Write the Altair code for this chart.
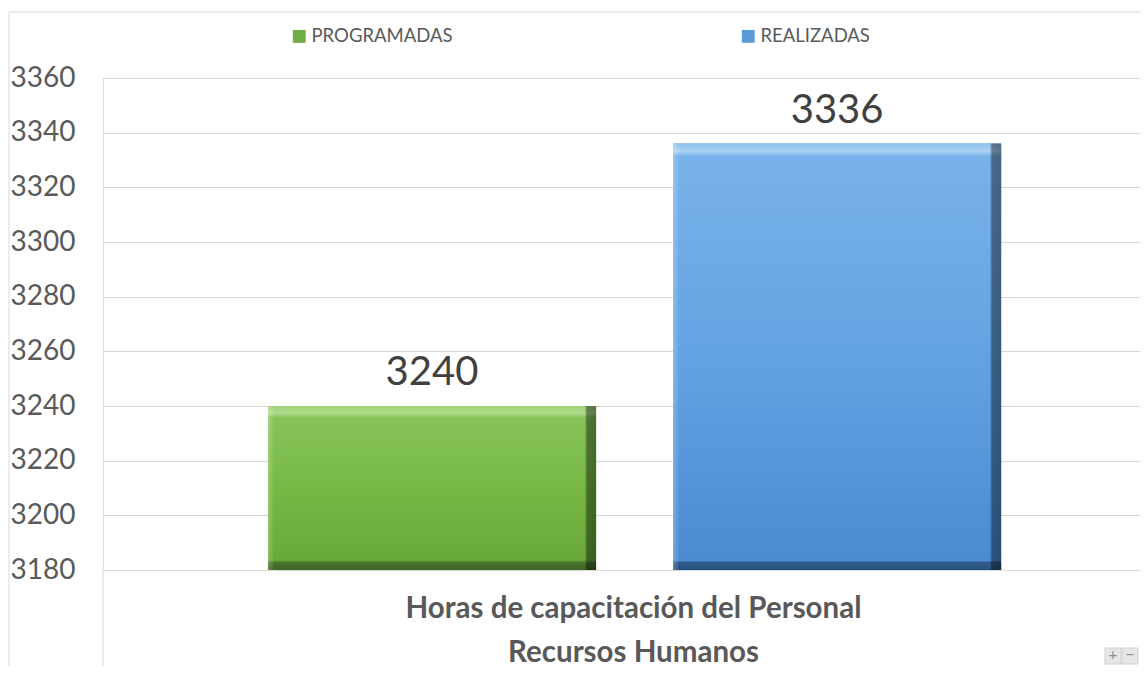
import altair as alt
import pandas as pd

# ---- data ----
SERIES = ["PROGRAMADAS", "REALIZADAS"]
VALUES = [3240, 3336]
CATEGORY = "Horas de capacitación del Personal"
GROUP = "Recursos Humanos"
Y_TICKS = [3180, 3200, 3220, 3240, 3260, 3280, 3300, 3320, 3340, 3360]
COLORS = ["#70ad47", "#5b9bd5"]
ZOOM_BUTTONS = ["+", "−"]

df = pd.DataFrame({"serie": SERIES, "valor": VALUES})
one = pd.DataFrame({"k": [0]})

W, H = 1037, 492
FONT = "Lato"
TXT = "#595959"
GRID = "#d9d9d9"

GRAD_G = {
    "gradient": "linear", "x1": 0, "y1": 0, "x2": 0, "y2": 1,
    "stops": [
        {"offset": 0.0, "color": "#9fd078"},
        {"offset": 0.045, "color": "#b0dc8c"},
        {"offset": 0.07, "color": "#86c35a"},
        {"offset": 0.5, "color": "#77b845"},
        {"offset": 0.94, "color": "#68a93a"},
        {"offset": 0.955, "color": "#4a752d"},
        {"offset": 1.0, "color": "#3d6524"},
    ],
}
GRAD_B = {
    "gradient": "linear", "x1": 0, "y1": 0, "x2": 0, "y2": 1,
    "stops": [
        {"offset": 0.0, "color": "#8fc0ef"},
        {"offset": 0.018, "color": "#acd3f5"},
        {"offset": 0.03, "color": "#78b2ea"},
        {"offset": 0.5, "color": "#63a2e2"},
        {"offset": 0.978, "color": "#4a8bd2"},
        {"offset": 0.982, "color": "#2f5b8a"},
        {"offset": 1.0, "color": "#28507c"},
    ],
}
GRAD_EDGE = {
    "gradient": "linear", "x1": 0, "y1": 0, "x2": 1, "y2": 0,
    "stops": [
        {"offset": 0.0, "color": "rgba(255,255,255,0.25)"},
        {"offset": 0.02, "color": "rgba(255,255,255,0.0)"},
        {"offset": 0.966, "color": "rgba(0,0,0,0.0)"},
        {"offset": 0.972, "color": "rgba(0,0,0,0.40)"},
        {"offset": 1.0, "color": "rgba(0,0,0,0.45)"},
    ],
}

x_enc = alt.X(
    "serie:N",
    scale=alt.Scale(domain=SERIES, paddingInner=0.19, paddingOuter=0.375, align=0.543),
    axis=alt.Axis(
        labels=False, ticks=False, domain=True, domainColor=GRID, grid=False,
        title=[CATEGORY, GROUP], titleFont=FONT, titleFontSize=29.5,
        titleFontWeight="bold", titleColor=TXT, titleX=530, titleY=47,
        titleAlign="center", titleBaseline="alphabetic", titleLineHeight=44,
    ),
)
y_enc = alt.Y(
    "valor:Q",
    scale=alt.Scale(domain=[Y_TICKS[0], Y_TICKS[-1]], zero=False, nice=False),
    axis=alt.Axis(
        values=Y_TICKS, format="d", grid=True, gridColor=GRID, domain=False, ticks=False,
        labelPadding=28, labelFont=FONT, labelFontSize=28, labelColor=TXT, title=None,
    ),
)

base = alt.Chart(df).mark_bar().encode(
    x=x_enc,
    y=y_enc,
    y2=alt.datum(Y_TICKS[0]),
    color=alt.Color(
        "serie:N",
        scale=alt.Scale(domain=SERIES, range=COLORS),
        legend=alt.Legend(
            title=None, orient="none", legendX=187, legendY=-51,
            direction="horizontal", symbolType="square", symbolSize=165,
            symbolStrokeWidth=0, labelFont=FONT, labelFontSize=18.5,
            labelColor=TXT, columnPadding=286, labelOffset=3, padding=0,
        ),
    ),
)

shade = alt.Chart(df).mark_bar().encode(
    x=x_enc,
    y=y_enc,
    y2=alt.datum(Y_TICKS[0]),
    fill=alt.condition(alt.datum.serie == SERIES[0], alt.value(GRAD_G), alt.value(GRAD_B)),
)

edge = alt.Chart(df).mark_bar(fill=GRAD_EDGE).encode(
    x=x_enc,
    y=y_enc,
    y2=alt.datum(Y_TICKS[0]),
)

labels = alt.Chart(df).mark_text(
    baseline="alphabetic", dy=-21, fontSize=40, font=FONT, color="#404040"
).encode(x=x_enc, y=y_enc, text="valor:Q")

frame_top = alt.Chart(one).mark_rule(color=GRID, strokeWidth=1).encode(
    x=alt.value(-94), x2=alt.value(W + 10), y=alt.value(-66)
)
frame_left = alt.Chart(one).mark_rule(color=GRID, strokeWidth=1).encode(
    x=alt.value(-94), y=alt.value(-66), y2=alt.value(H + 130)
)
cat_left = alt.Chart(one).mark_rule(color=GRID, strokeWidth=1).encode(
    x=alt.value(0), y=alt.value(H), y2=alt.value(H + 130)
)

# small zoom widget in the bottom-right corner
widget = []
for k, sym in enumerate(ZOOM_BUTTONS):
    bx0 = W - 35 + 17 * k
    widget.append(
        alt.Chart(one).mark_rect(fill="#e6e6e6", stroke="#d0d0d0", strokeWidth=1)
        .encode(x=alt.value(bx0), x2=alt.value(bx0 + 16),
                y=alt.value(H + 78), y2=alt.value(H + 94))
    )
    widget.append(
        alt.Chart(one).mark_text(fontSize=16, font=FONT, color="#8c8c8c", baseline="middle")
        .encode(x=alt.value(bx0 + 8), y=alt.value(H + 85), text=alt.value(sym))
    )

chart = (
    alt.layer(base, shade, edge, labels, frame_top, frame_left, cat_left, *widget)
    .properties(
        width=W,
        height=H,
        autosize=alt.AutoSizeParams(type="none"),
        padding={"left": 95, "top": 70, "right": 0, "bottom": 96},
    )
    .configure_view(stroke=None)
    .configure(background="white")
)

chart.save("out.html", embed_options={"renderer": "svg", "actions": False})
